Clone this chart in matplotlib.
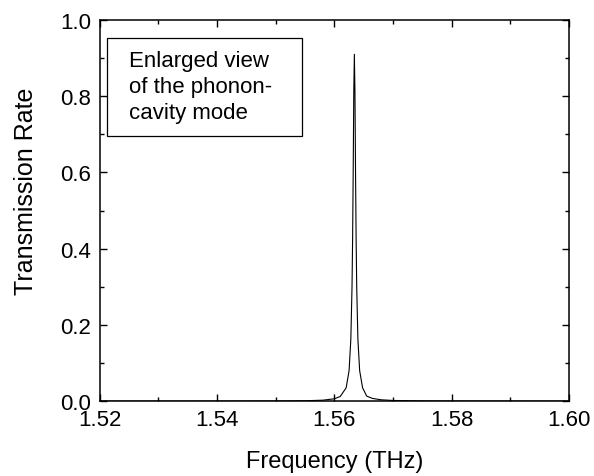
import matplotlib
matplotlib.use('Agg')
import matplotlib.pyplot as plt
from matplotlib.patches import Rectangle
from matplotlib.ticker import MultipleLocator

plt.rcParams['font.family'] = ['Liberation Sans', 'DejaVu Sans']

# transmission spectrum around the cavity mode
freq = [1.520, 1.540, 1.550, 1.555, 1.558, 1.560, 1.561, 1.562, 1.5625,
        1.5628, 1.5630, 1.5631, 1.5632, 1.5633, 1.5634, 1.5635, 1.5636,
        1.5637, 1.5638, 1.5640, 1.5643, 1.5648, 1.5655, 1.5665, 1.568,
        1.570, 1.575, 1.580, 1.590, 1.600]
trans = [0.0000, 0.0001, 0.0004, 0.0010, 0.0024, 0.0061, 0.0122, 0.035, 0.080,
         0.163, 0.300, 0.425, 0.600, 0.810, 0.910, 0.810, 0.600,
         0.425, 0.300, 0.163, 0.080, 0.035, 0.0131, 0.0070, 0.0034,
         0.0017, 0.0006, 0.0003, 0.0001, 0.0000]

note = "Enlarged view\nof the phonon-\ncavity mode"

fig = plt.figure(figsize=(5.94, 4.77), dpi=100)
ax = fig.add_axes([0.168, 0.157, 0.790, 0.799])

ax.plot(freq, trans, color='black', lw=0.8)

ax.set_xlim(1.52, 1.60)
ax.set_ylim(0.0, 1.0)
ax.xaxis.set_major_locator(MultipleLocator(0.02))
ax.xaxis.set_minor_locator(MultipleLocator(0.01))
ax.yaxis.set_major_locator(MultipleLocator(0.2))
ax.yaxis.set_minor_locator(MultipleLocator(0.1))
ax.xaxis.set_major_formatter(plt.FormatStrFormatter('%.2f'))
ax.yaxis.set_major_formatter(plt.FormatStrFormatter('%.1f'))
ax.tick_params(which='both', direction='in', top=True, right=True,
               labelsize=16, width=1.0)
ax.tick_params(axis='x', which='major', pad=6)
ax.tick_params(axis='y', which='major', pad=6)
ax.tick_params(which='major', length=5)
ax.tick_params(which='minor', length=3)
for s in ax.spines.values():
    s.set_linewidth(1.1)

ax.set_xlabel('Frequency (THz)', fontsize=17, labelpad=14)
ax.set_ylabel('Transmission Rate', fontsize=18, labelpad=16, y=0.554)

ax.add_patch(Rectangle((0.0143, 0.696), 0.416, 0.256, transform=ax.transAxes,
                       fill=False, edgecolor='black', lw=0.9))
ax.text(0.062, 0.922, note, transform=ax.transAxes, fontsize=16,
        ha='left', va='top', linespacing=1.32)

fig.savefig('out.png', dpi=100)
